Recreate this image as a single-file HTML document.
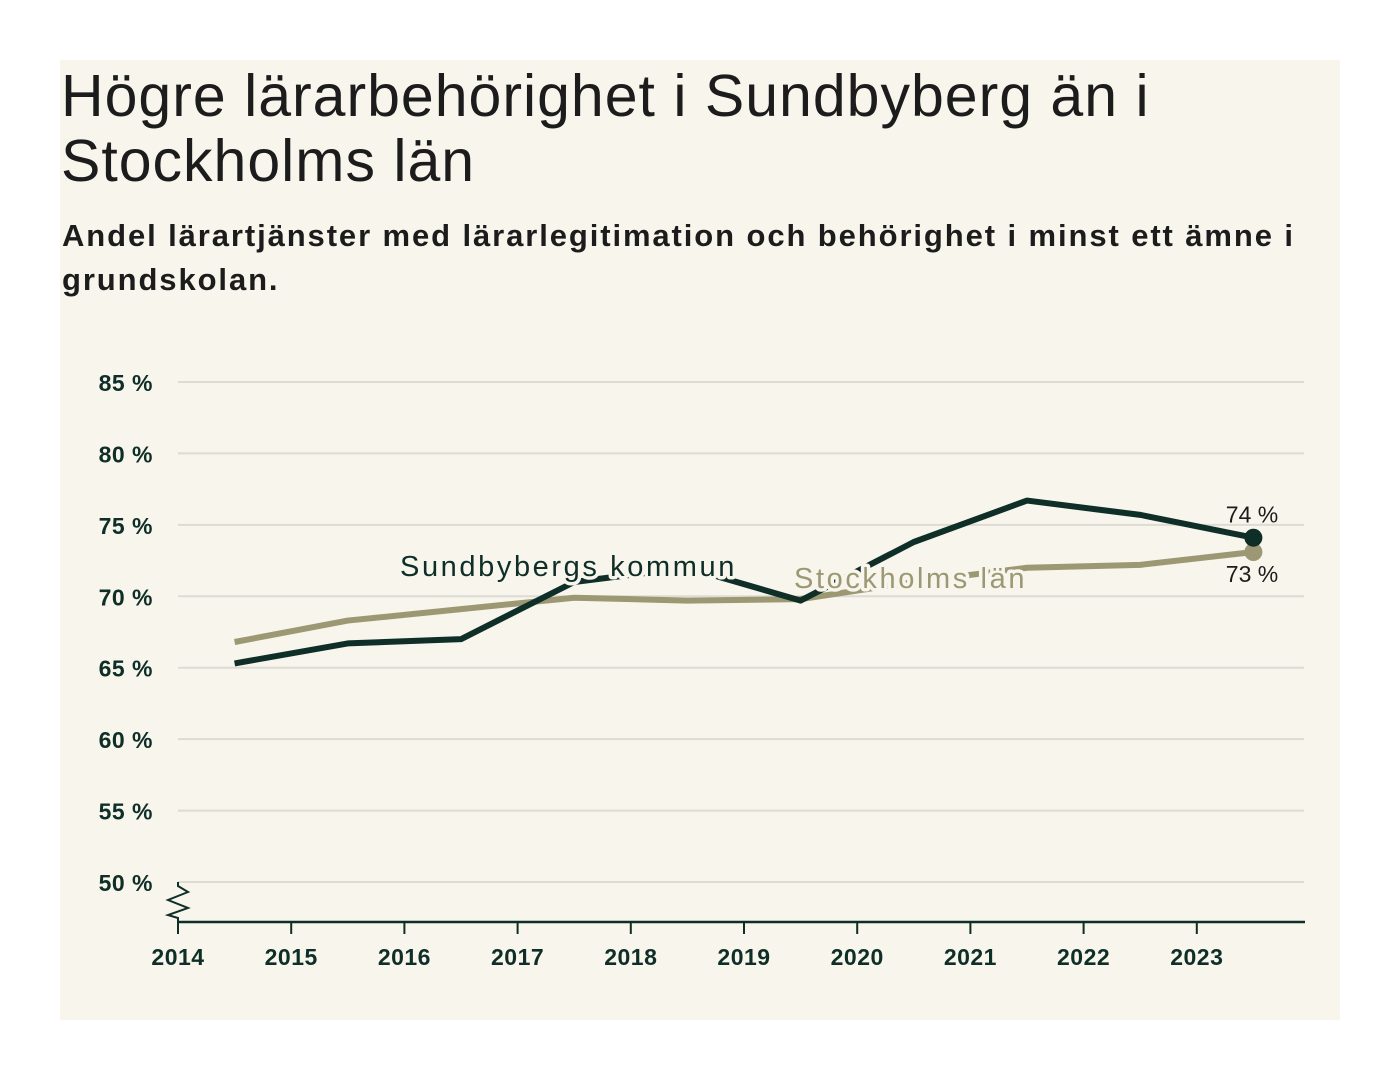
<!DOCTYPE html>
<html><head><meta charset="utf-8"><style>
body{margin:0;width:1400px;height:1080px;background:#fff;font-family:"Liberation Sans",sans-serif;}
#card{position:absolute;left:60px;top:60px;width:1280px;height:960px;background:#f7f5ec;}
h1{position:absolute;left:61px;top:64px;margin:0;font-size:59px;line-height:65px;font-weight:normal;color:#1c1c1c;letter-spacing:1px;width:1250px;}
h2{position:absolute;left:62px;top:214px;margin:0;font-size:31px;line-height:44px;font-weight:bold;color:#1c1c1c;letter-spacing:1.9px;width:1270px;}
svg{position:absolute;left:0;top:0;}
</style></head><body>
<div id="card"></div>
<h1>Högre lärarbehörighet i Sundbyberg än i Stockholms län</h1>
<h2>Andel lärartjänster med lärarlegitimation och behörighet i minst ett ämne i grundskolan.</h2>
<svg id="chart" width="1400" height="1080"></svg>
<script>
const years=[2014,2015,2016,2017,2018,2019,2020,2021,2022,2023];
const yTicks=[50,55,60,65,70,75,80,85];
const sundbyberg=[65.3,66.7,67.0,71.0,72.0,69.7,73.8,76.7,75.7,74.1];
const stockholm=[66.8,68.3,69.1,69.9,69.7,69.8,71.0,72.0,72.2,73.1];
const endLabels=["74 %","73 %"];
const NS="http://www.w3.org/2000/svg";
const svg=document.getElementById('chart');
const x=v=>178+(v-2014)*113.2;
const y=v=>882-(v-50)*(500/35);
const dark="#0e2e27",tan="#9c9874";
function el(t,a){const e=document.createElementNS(NS,t);for(const k in a)e.setAttribute(k,a[k]);svg.appendChild(e);return e;}
yTicks.forEach(t=>{
 const g=el('line',{x1:178,x2:1304,y1:y(t),y2:y(t),stroke:'#dddbd3','stroke-width':2});
 
 
 const l=el('text',{x:153,y:y(t)+9,'text-anchor':'end','font-size':23,fill:dark,'font-weight':'bold','letter-spacing':0.5});
 l.textContent=t+' %';
 
 
});
const ax=el('line',{x1:178,x2:1305,y1:922,y2:922,stroke:dark,'stroke-width':2.5});


const br=el('polyline',{points:'178,882 178,886 188,892 168,900 188,908 168,915 178,918 178,922',fill:'none',stroke:dark,'stroke-width':2});


years.forEach(yr=>{
 const tk=el('line',{x1:x(yr),x2:x(yr),y1:922,y2:934,stroke:dark,'stroke-width':2});
 
 
 const l=el('text',{x:x(yr),y:965,'text-anchor':'middle','font-size':23,fill:dark,'font-weight':'bold','letter-spacing':0.5});
 l.textContent=yr;
 
 
});
function series(vals,col,name){
 const p=el('polyline',{points:vals.map((v,i)=>x(years[i]+0.5)+','+y(v)).join(' '),fill:'none',stroke:col,'stroke-width':6,'stroke-linejoin':'round'});
 
 
 const n=vals.length-1;
 const c=el('circle',{cx:x(years[n]+0.5),cy:y(vals[n]),r:9,fill:col});
 
 
}
series(stockholm,tan,'stockholm');
series(sundbyberg,dark,'sundbyberg');
function label(t,xx,yy,col,name){
 const l=el('text',{x:xx,y:yy,'font-size':29,fill:col,'letter-spacing':2.6,stroke:'#f7f5ec','stroke-width':7,'paint-order':'stroke','stroke-linejoin':'round'});
 l.textContent=t;
 
 
}
label('Sundbybergs kommun',400,576,dark,'sundbyberg-label');
label('Stockholms län',794,588,tan,'stockholm-label');
const n=years.length-1;
const e1=el('text',{x:1252,y:y(sundbyberg[n])-15,'text-anchor':'middle','font-size':23,fill:'#1c1c1c'});
e1.textContent=endLabels[0];


const e2=el('text',{x:1252,y:y(stockholm[n])+30,'text-anchor':'middle','font-size':23,fill:'#1c1c1c'});
e2.textContent=endLabels[1];


</script>
</body></html>
